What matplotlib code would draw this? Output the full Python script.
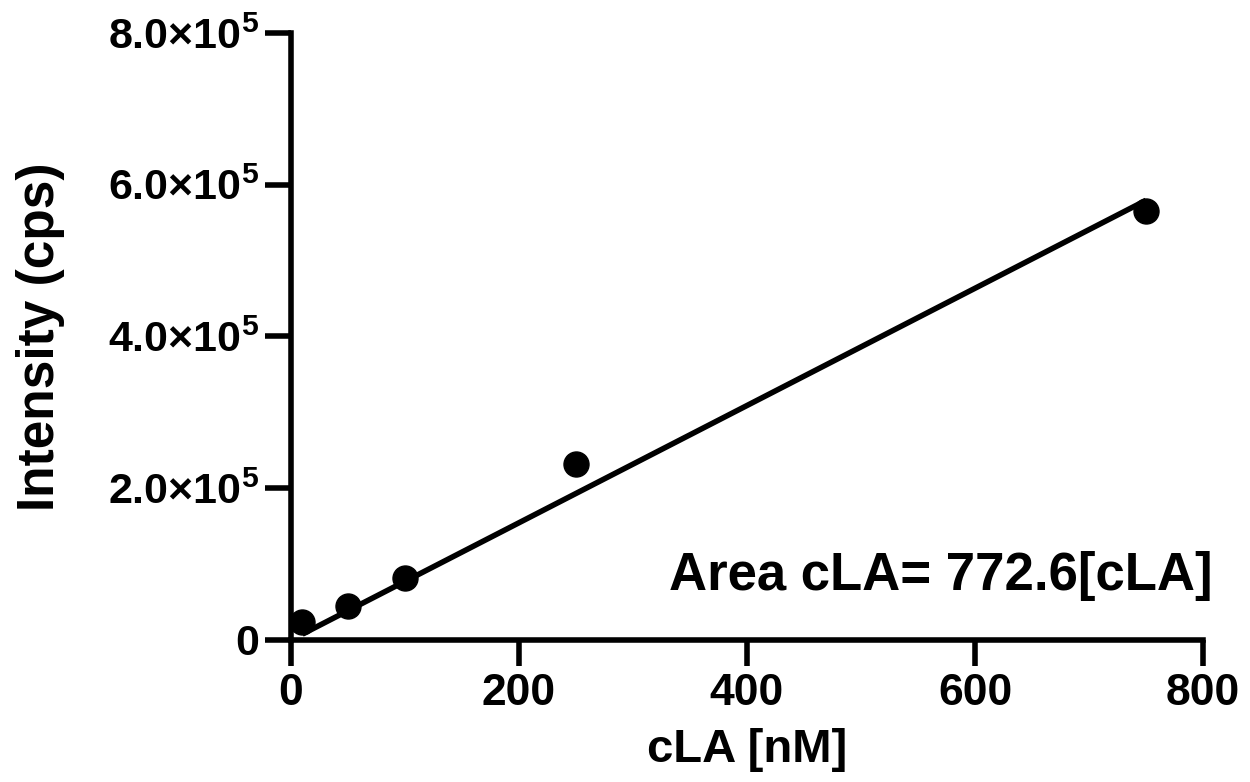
import matplotlib
matplotlib.use("Agg")
import matplotlib.pyplot as plt
import numpy as np
from matplotlib.ticker import FixedLocator, FuncFormatter

plt.rcParams['font.family'] = ['Liberation Sans', 'DejaVu Sans']
plt.rcParams['font.weight'] = 'bold'
plt.rcParams['mathtext.fontset'] = 'custom'
plt.rcParams['mathtext.rm'] = 'Liberation Sans:bold'
plt.rcParams['mathtext.default'] = 'rm'

# data
conc = [10, 50, 100, 250, 750]
intensity = [24000, 45000, 82000, 232000, 565000]
slope = 772.6
fit_x = [10, 750]
xticks = [0, 200, 400, 600, 800]
yticks = [0, 2e5, 4e5, 6e5, 8e5]
annotation = "Area cLA= 772.6[cLA]"
xlabel = "cLA [nM]"
ylabel = "Intensity (cps)"

fig = plt.figure(figsize=(12.5, 7.82), dpi=100)
ax = fig.add_axes([0.2328, 0.1816, 0.7296, 0.7762])

fx = np.array(fit_x, dtype=float)
ax.plot(fx, slope * fx, color='black', lw=4, solid_capstyle='butt', zorder=2)
ax.plot(conc, intensity, 'o', color='black', ms=18, zorder=3)

ax.set_xlim(0, 800)
ax.set_ylim(0, 8e5)
ax.xaxis.set_major_locator(FixedLocator(xticks))
ax.yaxis.set_major_locator(FixedLocator(yticks))

def yfmt(v, pos):
    if v == 0:
        return "0"
    return "%.1f\u00d710$^{5}$" % (v / 1e5)

ax.yaxis.set_major_formatter(FuncFormatter(yfmt))
ax.xaxis.set_major_formatter(FuncFormatter(lambda v, p: "%d" % v))

for s in ['top', 'right']:
    ax.spines[s].set_visible(False)
for s in ['left', 'bottom']:
    ax.spines[s].set_linewidth(4)
    ax.spines[s].set_capstyle('projecting')
ax.tick_params(axis='both', which='major', direction='out', length=19, width=4)
ax.tick_params(axis='x', labelsize=32, pad=5)
ax.tick_params(axis='y', labelsize=31, pad=4)
for lab in ax.get_xticklabels() + ax.get_yticklabels():
    lab.set_fontweight('bold')

ax.set_xlabel(xlabel, fontsize=34, fontweight='bold', labelpad=10)
ax.set_ylabel(ylabel, fontsize=37, fontweight='bold', labelpad=31)

ax.text(1.011, 0.082, annotation, transform=ax.transAxes, ha='right', va='baseline',
        fontsize=38, fontweight='bold')

fig.savefig("out.png", dpi=100)
